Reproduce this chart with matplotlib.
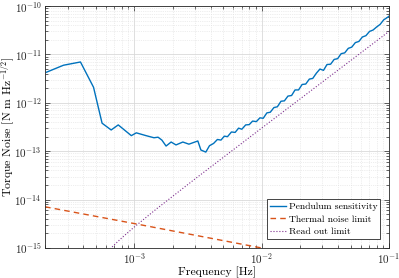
import matplotlib
matplotlib.use('Agg')
import matplotlib.pyplot as plt
from matplotlib.ticker import LogLocator, NullFormatter

plt.rcParams['font.family'] = 'serif'
plt.rcParams['font.serif'] = ['cmr10']
plt.rcParams['mathtext.fontset'] = 'cm'
plt.rcParams['axes.formatter.use_mathtext'] = True

# Pendulum sensitivity
freq_pend = [2.05e-4, 2.79e-4, 3.79e-4, 4.8e-4, 5.6e-4, 6.6e-4, 7.5e-4, 9.5e-4, 1.04e-3,
             1.24e-3, 1.43e-3, 1.54e-3, 1.65e-3, 1.78e-3, 1.95e-3, 2.13e-3, 2.41e-3,
             2.69e-3, 3.16e-3, 3.34e-3, 3.65e-3, 3.9e-3, 4.2e-3, 4.5e-3, 4.8e-3, 5.1e-3,
             5.4e-3, 5.8e-3, 6.2e-3, 6.6e-3, 7.0e-3, 7.5e-3, 8.0e-3, 8.5e-3, 9.1e-3,
             9.7e-3, 1.03e-2, 1.1e-2, 1.17e-2, 1.25e-2, 1.33e-2, 1.42e-2, 1.51e-2,
             1.61e-2, 1.72e-2, 1.83e-2, 1.95e-2, 2.08e-2, 2.22e-2, 2.37e-2, 2.52e-2,
             2.69e-2, 2.87e-2, 3.06e-2, 3.26e-2, 3.48e-2, 3.71e-2, 3.95e-2, 4.21e-2,
             4.49e-2, 4.79e-2, 5.1e-2, 5.44e-2, 5.8e-2, 6.18e-2, 6.59e-2, 7.03e-2,
             7.49e-2, 7.99e-2, 8.52e-2, 9.08e-2, 9.68e-2, 1.0e-1]
torque_pend = [4.3e-12, 6.0e-12, 7.0e-12, 2.1e-12, 3.8e-13, 2.75e-13, 3.5e-13, 2.1e-13, 2.4e-13,
               2.1e-13, 1.9e-13, 1.95e-13, 1.7e-13, 1.28e-13, 1.55e-13, 1.35e-13, 1.55e-13,
               1.4e-13, 1.63e-13, 1.06e-13, 9.6e-14, 1.3e-13, 1.45e-13, 1.75e-13, 1.7e-13, 2.05e-13,
               2.0e-13, 2.5e-13, 2.45e-13, 3.0e-13, 2.85e-13, 3.5e-13, 3.55e-13, 4.2e-13, 4.1e-13,
               4.9e-13, 4.8e-13, 6.2e-13, 6.4e-13, 8.0e-13, 8.3e-13, 1.08e-12, 1.1e-12,
               1.38e-12, 1.42e-12, 1.85e-12, 1.85e-12, 2.4e-12, 2.45e-12, 3.1e-12, 3.2e-12,
               4.1e-12, 5.0e-12, 4.7e-12, 6.2e-12, 6.3e-12, 7.9e-12, 8.2e-12, 1.04e-11,
               1.08e-11, 1.34e-11, 1.42e-11, 1.76e-11, 1.86e-11, 2.3e-11, 2.45e-11, 3.0e-11,
               3.2e-11, 3.7e-11, 4.2e-11, 5.2e-11, 5.8e-11, 6.2e-11]

# Thermal noise limit
freq_thermal = [2e-4, 1e-3, 1e-2, 1e-1]
torque_thermal = [7.1e-15, 3.2e-15, 1.0e-15, 3.2e-16]

# Read out limit
freq_readout = [6.0e-4, 7.0e-4, 8.0e-4, 1.0e-3, 1.5e-3, 3.0e-3, 1.0e-2, 3.0e-2, 1.0e-1]
torque_readout = [7.8e-16, 1.17e-15, 1.62e-15, 2.7e-15, 6.45e-15, 2.67e-14, 3.0e-13, 2.7e-12, 3.0e-11]

fig = plt.figure(figsize=(3.99, 2.78), dpi=100)
ax = fig.add_axes([0.113, 0.108, 0.862, 0.870])

ax.loglog(freq_pend, torque_pend, color='#0072BD', lw=1.0, label='Pendulum sensitivity')
ax.loglog(freq_thermal, torque_thermal, color='#D95319', lw=1.0, ls=(0, (4, 3)),
          label='Thermal noise limit')
ax.loglog(freq_readout, torque_readout, color='#7E2F8E', lw=0.8, ls=':',
          label='Read out limit')

ax.set_xlim(2e-4, 1e-1)
ax.set_ylim(1e-15, 1e-10)
ax.xaxis.set_major_locator(LogLocator(base=10, numticks=10))
ax.yaxis.set_major_locator(LogLocator(base=10, numticks=10))
ax.xaxis.set_minor_locator(LogLocator(base=10, subs=range(2, 10), numticks=20))
ax.yaxis.set_minor_locator(LogLocator(base=10, subs=range(2, 10), numticks=20))
ax.xaxis.set_minor_formatter(NullFormatter())
ax.yaxis.set_minor_formatter(NullFormatter())

ax.grid(True, which='major', color='#d9d9d9', lw=0.6, ls='-')
ax.grid(True, which='minor', color='#dddddd', lw=0.5, ls=':')
ax.set_axisbelow(True)

ax.tick_params(which='both', direction='in', top=True, right=True, colors='#262626',
               labelsize=8, width=0.5)
ax.tick_params(which='major', length=3.5, pad=2.5)
ax.tick_params(which='minor', length=2)
for s in ax.spines.values():
    s.set_color('#262626')
    s.set_linewidth(0.6)

ax.set_xlabel('Frequency [Hz]', fontsize=8.5)
ax.set_ylabel(r'Torque Noise [N m Hz$^{-1/2}$]', fontsize=8.5)
ax.xaxis.set_label_coords(0.5, -0.075)
ax.yaxis.set_label_coords(-0.082, 0.5)

leg = ax.legend(loc='lower right', fontsize=7, frameon=True, fancybox=False,
                edgecolor='#262626', framealpha=1, borderaxespad=0.9,
                handlelength=1.7, handletextpad=0.25, borderpad=0.3, labelspacing=0.4)
leg.get_frame().set_linewidth(0.6)

fig.savefig('out.png', dpi=100)
